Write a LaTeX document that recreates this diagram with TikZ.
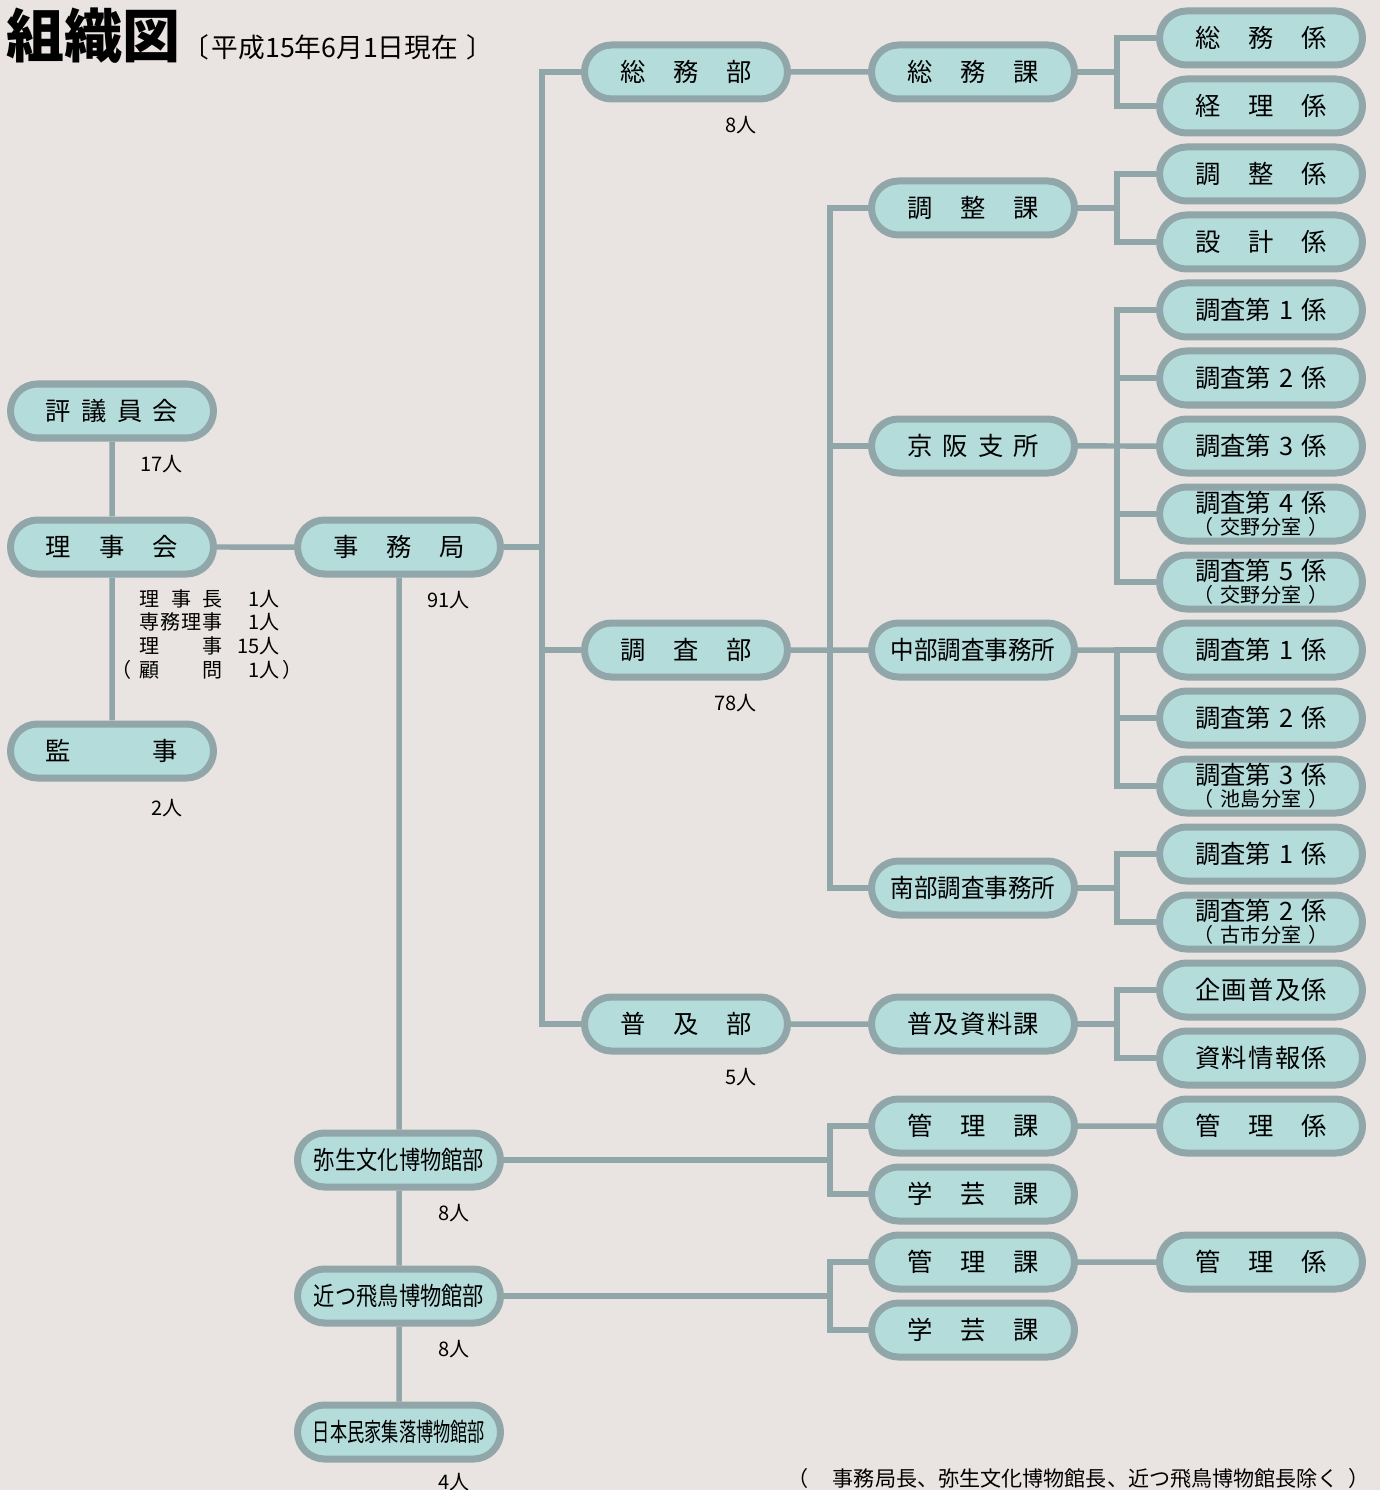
\documentclass[tikz,border=0pt]{standalone}
\usepackage{fontspec}
\setmainfont{Noto Sans CJK JP}
\usepackage{graphicx}
\usetikzlibrary{shapes.misc}
\definecolor{bgcol}{HTML}{E9E4E1}
\definecolor{pillfill}{HTML}{B3DCDB}
\definecolor{pillline}{HTML}{91A6A8}
\newcommand{\sprd}[1]{\makebox[1.32cm][s]{#1}}
\newcommand{\sprdb}[1]{\makebox[0.83cm][s]{#1}}
\newcommand{\sqz}[2]{\scalebox{#1}[1]{#2}}
\newcommand{\subfnt}{\fontsize{5.7pt}{6.2pt}\selectfont}
\newcommand{\subl}[1]{{\subfnt （\hspace{0.07cm}#1\hspace{0.07cm}）}}
\tikzset{pill/.style={rounded rectangle, draw=pillline, fill=pillfill, line width=0.07cm, minimum width=2.03cm, minimum height=0.54cm, inner sep=0pt, align=center, font=\fontsize{7.2pt}{6.2pt}\selectfont}}
\tikzset{conn/.style={draw=pillline, line width=0.055cm}}
\tikzset{count/.style={anchor=north east, inner sep=0pt, font=\fontsize{5.7pt}{6.5pt}\selectfont}}

\begin{document}
\begin{tikzpicture}
  \path[use as bounding box, fill=bgcol] (0,0) rectangle (13.8,-14.9);

  % title
  \node[anchor=base west, inner sep=0pt, font=\fontsize{16.5pt}{18pt}\selectfont\bfseries] (ttl) at (0.06,-0.58) {組織図};
  \node[anchor=base west, inner sep=0pt, font=\fontsize{7.6pt}{8pt}\selectfont] (ttldate) at (ttl.base east) {〔\hspace{0.03cm}平成15年6月1日現在\hspace{0.08cm}〕};

  % column 1
  \node[pill] (hyogi) at (1.12,-4.11) {\sprd{評\hfill 議\hfill 員\hfill 会}};
  \node[pill] (riji) at (1.12,-5.47) {\sprd{理\hfill 事\hfill 会}};
  \node[pill] (kanji) at (1.12,-7.51) {\sprd{監\hfill 事}};

  % column 2
  \node[pill] (jimu) at (3.99,-5.47) {\sprd{事\hfill 務\hfill 局}};
  \node[pill] (yayoi) at (3.99,-11.60) {\sqz{0.84}{弥生文化博物館部}};
  \node[pill] (chikatsu) at (3.99,-12.96) {\sqz{0.84}{近つ飛鳥博物館部}};
  \node[pill] (minka) at (3.99,-14.32) {\sqz{0.68}{日本民家集落博物館部}};

  % column 3
  \node[pill] (somubu) at (6.86,-0.72) {\sprd{総\hfill 務\hfill 部}};
  \node[pill] (chosabu) at (6.86,-6.50) {\sprd{調\hfill 査\hfill 部}};
  \node[pill] (fukyubu) at (6.86,-10.24) {\sprd{普\hfill 及\hfill 部}};

  % column 4
  \node[pill] (somuka) at (9.73,-0.72) {\sprd{総\hfill 務\hfill 課}};
  \node[pill] (choseika) at (9.73,-2.08) {\sprd{調\hfill 整\hfill 課}};
  \node[pill] (keihan) at (9.73,-4.46) {\sprd{京\hfill 阪\hfill 支\hfill 所}};
  \node[pill] (chubu) at (9.73,-6.50) {\sqz{0.93}{中部調査事務所}};
  \node[pill] (nanbu) at (9.73,-8.88) {\sqz{0.93}{南部調査事務所}};
  \node[pill] (shiryoka) at (9.73,-10.24) {\sprd{普\hfill 及\hfill 資\hfill 料\hfill 課}};
  \node[pill] (kanrika1) at (9.73,-11.26) {\sprd{管\hfill 理\hfill 課}};
  \node[pill] (gakugeika1) at (9.73,-11.94) {\sprd{学\hfill 芸\hfill 課}};
  \node[pill] (kanrika2) at (9.73,-12.62) {\sprd{管\hfill 理\hfill 課}};
  \node[pill] (gakugeika2) at (9.73,-13.30) {\sprd{学\hfill 芸\hfill 課}};

  % column 5
  \node[pill] (somug) at (12.61,-0.38) {\sprd{総\hfill 務\hfill 係}};
  \node[pill] (keirig) at (12.61,-1.06) {\sprd{経\hfill 理\hfill 係}};
  \node[pill] (choseig) at (12.61,-1.74) {\sprd{調\hfill 整\hfill 係}};
  \node[pill] (sekkeig) at (12.61,-2.42) {\sprd{設\hfill 計\hfill 係}};
  \node[pill] (kc1) at (12.61,-3.10) {\sprd{調査第\hfill 1\hfill 係}};
  \node[pill] (kc2) at (12.61,-3.78) {\sprd{調査第\hfill 2\hfill 係}};
  \node[pill] (kc3) at (12.61,-4.46) {\sprd{調査第\hfill 3\hfill 係}};
  \node[pill] (kc4) at (12.61,-5.14) {\sprd{調査第\hfill 4\hfill 係}\\\subl{交野分室}};
  \node[pill] (kc5) at (12.61,-5.82) {\sprd{調査第\hfill 5\hfill 係}\\\subl{交野分室}};
  \node[pill] (cc1) at (12.61,-6.50) {\sprd{調査第\hfill 1\hfill 係}};
  \node[pill] (cc2) at (12.61,-7.18) {\sprd{調査第\hfill 2\hfill 係}};
  \node[pill] (cc3) at (12.61,-7.86) {\sprd{調査第\hfill 3\hfill 係}\\\subl{池島分室}};
  \node[pill] (nc1) at (12.61,-8.54) {\sprd{調査第\hfill 1\hfill 係}};
  \node[pill] (nc2) at (12.61,-9.22) {\sprd{調査第\hfill 2\hfill 係}\\\subl{古市分室}};
  \node[pill] (kikakug) at (12.61,-9.90) {\sprd{企\hfill 画\hfill 普\hfill 及\hfill 係}};
  \node[pill] (jyohog) at (12.61,-10.58) {\sprd{資\hfill 料\hfill 情\hfill 報\hfill 係}};
  \node[pill] (kanrig1) at (12.61,-11.26) {\sprd{管\hfill 理\hfill 係}};
  \node[pill] (kanrig2) at (12.61,-12.62) {\sprd{管\hfill 理\hfill 係}};

  % staff counts
  \node[count] (nhyogi) at ([shift={(0.71,-0.135)}]hyogi.south) {17人};
  \node[count] (njimu) at ([shift={(0.71,-0.135)}]jimu.south) {91人};
  \node[count] (nkanji) at ([shift={(0.71,-0.175)}]kanji.south) {2人};
  \node[count] (nsomubu) at ([shift={(0.71,-0.135)}]somubu.south) {8人};
  \node[count] (nchosabu) at ([shift={(0.71,-0.135)}]chosabu.south) {78人};
  \node[count] (nfukyubu) at ([shift={(0.71,-0.135)}]fukyubu.south) {5人};
  \node[count] (nyayoi) at ([shift={(0.71,-0.135)}]yayoi.south) {8人};
  \node[count] (nchikatsu) at ([shift={(0.71,-0.135)}]chikatsu.south) {8人};
  \node[count] (nminka) at ([shift={(0.71,-0.1)}]minka.south) {4人};

  \node[anchor=north west, inner sep=0pt, font=\fontsize{5.7pt}{6.5pt}\selectfont] (rijimem) at (1.11,-5.885) {%
    \begin{tabular}{@{}r@{}l@{\hspace{0.15cm}}r@{}l@{}}
      & \sprdb{理\hfill 事\hfill 長} & 1人 & \\
      & \sprdb{専\hfill 務\hfill 理\hfill 事} & 1人 & \\
      & \sprdb{理\hfill 事} & 15人 & \\
      （\hspace{0.08cm} & \sprdb{顧\hfill 問} & 1人 & \hspace{0.02cm}）
    \end{tabular}};

  \node[anchor=base west, inner sep=0pt, font=\fontsize{6pt}{7pt}\selectfont] (note) at (7.87,-14.86) {（\hspace{0.03cm}　事務局長、弥生文化博物館長、近つ飛鳥博物館長除く\hspace{0.1cm}）};

  % connectors
  \coordinate (bus1) at (5.42,0);
  \coordinate (bus2) at (8.30,0);
  \coordinate (bus3) at (11.17,0);

  \draw[conn] (hyogi) -- (riji);
  \draw[conn] (riji) -- (kanji);
  \draw[conn] (riji) -- (jimu);
  \draw[conn] (jimu) -- (yayoi);
  \draw[conn] (yayoi) -- (chikatsu);
  \draw[conn] (chikatsu) -- (minka);

  \draw[conn] (jimu.east) -- (jimu.east -| bus1);
  \draw[conn] (somubu.west) -| (bus1 |- fukyubu.west) -- (fukyubu.west);
  \draw[conn] (chosabu.west) -- (chosabu.west -| bus1);

  \draw[conn] (somubu) -- (somuka);
  \draw[conn] (fukyubu) -- (shiryoka);
  \draw[conn] (chosabu) -- (chubu);
  \draw[conn] (choseika.west) -| (bus2 |- nanbu.west) -- (nanbu.west);
  \draw[conn] (keihan.west) -- (keihan.west -| bus2);
  \draw[conn] (yayoi.east) -- (yayoi.east -| bus2);
  \draw[conn] (kanrika1.west) -| (bus2 |- gakugeika1.west) -- (gakugeika1.west);
  \draw[conn] (chikatsu.east) -- (chikatsu.east -| bus2);
  \draw[conn] (kanrika2.west) -| (bus2 |- gakugeika2.west) -- (gakugeika2.west);

  \draw[conn] (somuka.east) -- (somuka.east -| bus3);
  \draw[conn] (somug.west) -| (bus3 |- keirig.west) -- (keirig.west);
  \draw[conn] (choseika.east) -- (choseika.east -| bus3);
  \draw[conn] (choseig.west) -| (bus3 |- sekkeig.west) -- (sekkeig.west);
  \draw[conn] (keihan) -- (kc3);
  \draw[conn] (kc1.west) -| (bus3 |- kc5.west) -- (kc5.west);
  \draw[conn] (kc2.west) -- (kc2.west -| bus3);
  \draw[conn] (kc4.west) -- (kc4.west -| bus3);
  \draw[conn] (chubu) -- (cc1);
  \draw[conn] (cc1.west) -| (bus3 |- cc3.west) -- (cc3.west);
  \draw[conn] (cc2.west) -- (cc2.west -| bus3);
  \draw[conn] (nanbu.east) -- (nanbu.east -| bus3);
  \draw[conn] (nc1.west) -| (bus3 |- nc2.west) -- (nc2.west);
  \draw[conn] (shiryoka.east) -- (shiryoka.east -| bus3);
  \draw[conn] (kikakug.west) -| (bus3 |- jyohog.west) -- (jyohog.west);
  \draw[conn] (kanrika1) -- (kanrig1);
  \draw[conn] (kanrika2) -- (kanrig2);
\end{tikzpicture}
\end{document}
